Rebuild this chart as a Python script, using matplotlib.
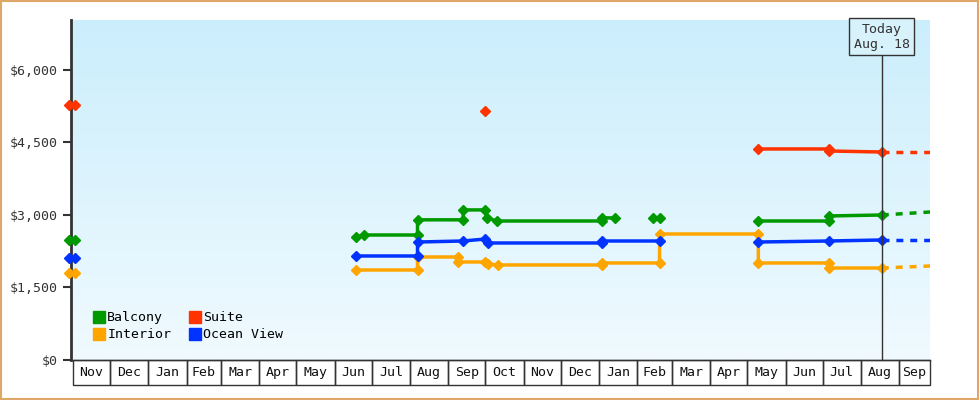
import matplotlib
matplotlib.use("Agg")
import matplotlib.pyplot as plt
import numpy as np
from matplotlib.patches import Rectangle
from matplotlib.lines import Line2D
import matplotlib.transforms as mtransforms
from matplotlib.colors import LinearSegmentedColormap

plt.rcParams['font.family'] = ['DejaVu Sans Mono']

months = ["Nov","Dec","Jan","Feb","Mar","Apr","May","Jun","Jul","Aug","Sep","Oct",
          "Nov","Dec","Jan","Feb","Mar","Apr","May","Jun","Jul","Aug","Sep"]
month_days = [30,31,31,28,31,30,31,30,31,31,30,31,30,31,31,28,31,30,31,30,31,31,30]
today_day = 655
today_label = "Today\nAug. 18"

balcony_x = [-3, 2, np.nan, 229, 236, 279, 279, 316, 316, 334, 335, 343, 428, 428, 439, np.nan, 470, 475, np.nan, 555, 612, 612, 655]
balcony_y = [2480, 2480, np.nan, 2545, 2586, 2586, 2900, 2900, 3105, 3105, 2940, 2876, 2876, 2940, 2940, np.nan, 2940, 2940, np.nan, 2876, 2876, 2980, 3000]
interior_x = [-3, 2, np.nan, 229, 279, 279, 312, 312, 334, 336, 344, 428, 428, 475, 475, 555, 555, 612, 612, 655]
interior_y = [1800, 1800, np.nan, 1862, 1862, 2131, 2131, 2028, 2028, 1986, 1966, 1966, 2007, 2007, 2607, 2607, 2007, 2007, 1903, 1903]
ocean_x = [-3, 2, np.nan, 229, 279, 279, 316, 334, 336, 428, 428, 475, np.nan, 555, 612, 655]
ocean_y = [2110, 2110, np.nan, 2152, 2152, 2441, 2462, 2503, 2421, 2421, 2462, 2462, np.nan, 2441, 2462, 2483]
suite_x = [-3, 2, np.nan, 334, np.nan, 555, 612, 612, 655]
suite_y = [5276, 5276, np.nan, 5152, np.nan, 4366, 4366, 4324, 4303]
forecast_x = [655, 694]
balcony_fc = [3000, 3062]
interior_fc = [1903, 1945]
ocean_fc = [2483, 2483]
suite_fc = [4303, 4303]

colors = {"Balcony": "#009900", "Suite": "#ff3300", "Interior": "#ffa500", "Ocean View": "#0033ff"}

fig = plt.figure(figsize=(9.8, 4.0), dpi=100)
fig.patch.set_facecolor("white")
fig.add_artist(Rectangle((0.001, 0.002), 0.997, 0.995, transform=fig.transFigure,
                         fill=False, edgecolor="#e0a868", lw=1.5))
ax = fig.add_axes([71/980, 40/400, 859/980, 340/400])
ax.set_xlim(-1.6, 694)
ax.set_ylim(0, 7034)

grad = np.linspace(0, 1, 256).reshape(-1, 1)
cm = LinearSegmentedColormap.from_list("bg", ["#f0faff", "#cbeefc"])
ax.imshow(grad, aspect="auto", cmap=cm, origin="lower", extent=[-1.6, 694, 0, 7034], zorder=0)

for name, xs, ys, fc in [("Balcony", balcony_x, balcony_y, balcony_fc),
                         ("Interior", interior_x, interior_y, interior_fc),
                         ("Ocean View", ocean_x, ocean_y, ocean_fc),
                         ("Suite", suite_x, suite_y, suite_fc)]:
    c = colors[name]
    ax.plot(xs, ys, color=c, lw=2.5, marker="D", ms=5.5, zorder=3, clip_on=False)
    ax.plot(forecast_x, fc, color=c, lw=2.5, ls=(0, (2, 2)), zorder=3)

ax.axvline(today_day, color="#333333", lw=1, zorder=4)
ax.annotate(today_label, xy=(today_day, 1.0), xycoords=("data", "axes fraction"),
            xytext=(0, -2), textcoords="offset points", ha="center", va="top",
            fontsize=9.5, color="#333333", zorder=5,
            bbox=dict(boxstyle="square,pad=0.35", fc="#d8f2fc", ec="#333333", lw=1))

ax.set_yticks([0, 1500, 3000, 4500, 6000])
ax.set_yticklabels(["$0", "$1,500", "$3,000", "$4,500", "$6,000"], fontsize=9.5, color="#333333")
ax.tick_params(axis="y", length=6, width=1.5, color="#333333", direction="out")
ax.set_xticks([])
for s in ["top", "right"]:
    ax.spines[s].set_visible(False)
ax.spines["left"].set_linewidth(2)
ax.spines["left"].set_color("#333333")
ax.spines["left"].set_zorder(2)
ax.spines["bottom"].set_linewidth(1)
ax.spines["bottom"].set_color("#333333")

trans = mtransforms.blended_transform_factory(ax.transData, ax.transAxes)
edges = np.concatenate([[0], np.cumsum(month_days)])
cell_h = 25 / 340
for i, m in enumerate(months):
    x0, x1 = edges[i], min(edges[i + 1], 694)
    ax.add_artist(Rectangle((x0, -cell_h), x1 - x0, cell_h, transform=trans, clip_on=False,
                            fill=False, edgecolor="#333333", lw=1))
    ax.text((x0 + x1) / 2, -cell_h / 2, m, transform=trans, ha="center", va="center",
            fontsize=9.5, color="#111111", clip_on=False)

handles = [Line2D([], [], marker="s", ls="", color=colors[n], ms=9) for n in ["Balcony", "Interior", "Suite", "Ocean View"]]
ax.legend(handles, ["Balcony", "Interior", "Suite", "Ocean View"], ncol=2, frameon=False,
          loc="lower left", bbox_to_anchor=(0.01, 0.02), handletextpad=0.0, columnspacing=1.2,
          labelspacing=0.3, fontsize=9.5, handlelength=1.2)

fig.savefig("out.png", dpi=100)
